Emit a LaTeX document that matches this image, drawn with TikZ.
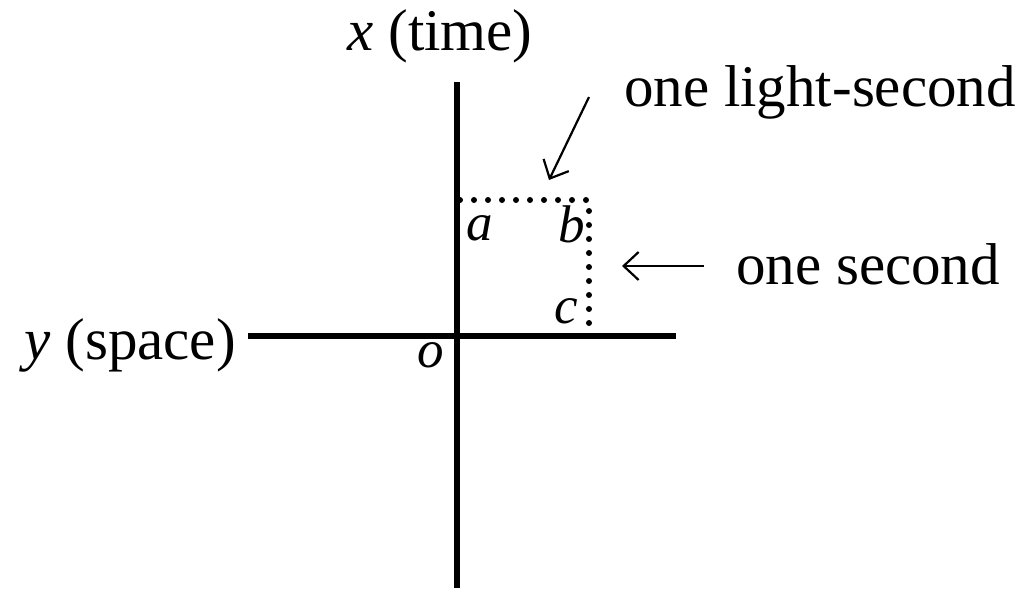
\documentclass[tikz,border=0pt]{standalone}
\usepackage{fontspec}
\usetikzlibrary{arrows.meta}
\setmainfont{Liberation Serif}
\begin{document}
\begin{tikzpicture}[x=1pt,y=-1pt,
  axis/.style={line width=5.5pt},
  dots/.style={line width=6pt, line cap=round, dash pattern=on 0pt off 14pt},
  lbl/.style={font=\fontsize{59}{61}\selectfont, inner sep=0pt},
  pt/.style={font=\fontsize{53}{55}\selectfont\itshape, inner sep=0pt},
  arr/.style={line width=2.2pt, -{Straight Barb[length=15pt,width=28pt]}}]
\useasboundingbox (0,0) rectangle (1036,592);
\coordinate (vtop) at (457,82);
\coordinate (vbot) at (457,588);
\coordinate (hl) at (248,336);
\coordinate (hr) at (676,336);
\draw[axis] (vtop) -- (vbot);
\draw[axis] (hl) -- (hr);
\coordinate (A) at (460,200);
\coordinate (B) at (589,200);
\coordinate (C) at (589,334);
\draw[dots] (A) -- (B) -- (C);
\node[lbl] (xl) at (440,36) {\textit{x} (time)};
\node[lbl, anchor=east] (yl) at (236,345) {\textit{y} (space)};
\node[lbl, anchor=west] (ls) at (624,92) {one light-second};
\node[lbl, anchor=west] (os) at (736,264) {one second};
\node[pt] (a) at (480,228) {a};
\node[pt] (b) at (572,224) {b};
\node[pt] (c) at (566,311) {c};
\node[pt] (o) at (431,355) {o};
\coordinate (ls1) at (589,97);
\coordinate (ls2) at (549,180);
\coordinate (os1) at (704,266);
\coordinate (os2) at (622,266);
\draw[arr] (ls1) -- (ls2);
\draw[arr] (os1) -- (os2);
\end{tikzpicture}
\end{document}
